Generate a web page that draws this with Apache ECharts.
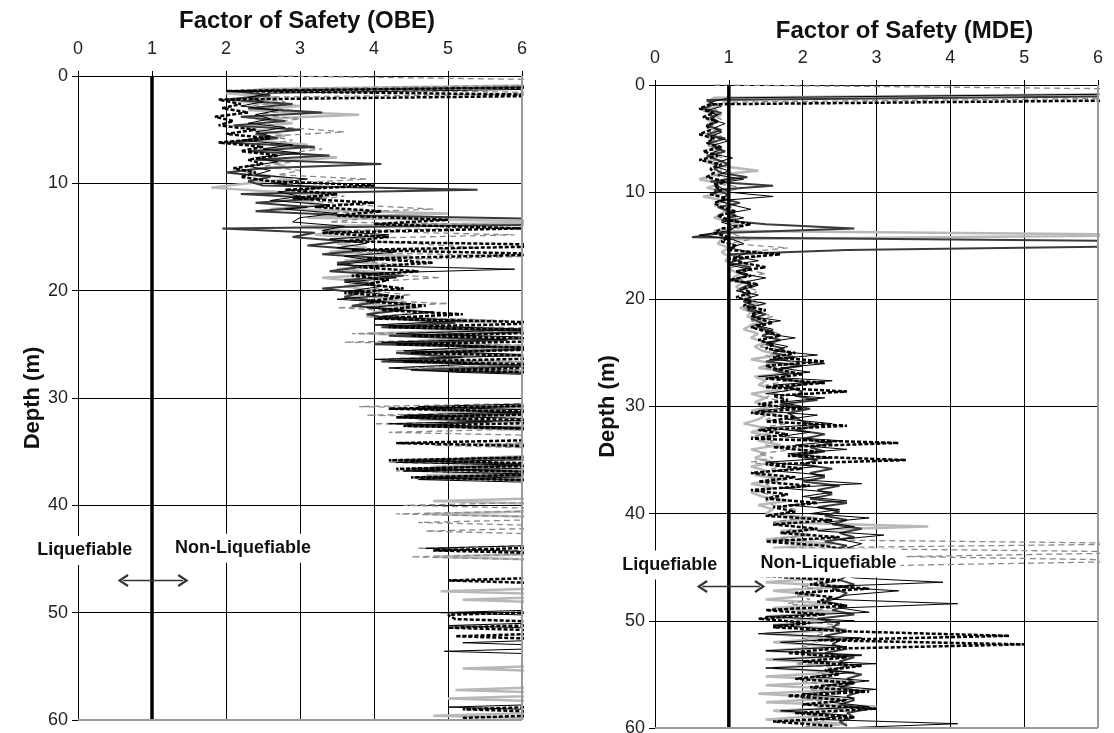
<!DOCTYPE html>
<html>
<head>
<meta charset="utf-8">
<script src="https://cdn.jsdelivr.net/npm/echarts@6/dist/echarts.min.js"></script>
<style>
html,body{margin:0;padding:0;background:#fff;}
#main{width:1114px;height:733px;}
</style>
</head>
<body>
<div id="main"></div>
<script>
// depth samples (m) - two interleaved sets so the profiles do not all break at the same depth
var depthEven = [
 0,0.4,0.8,1.2,1.6,2,2.4,2.8,3.2,3.6,
 4,4.4,4.8,5.2,5.6,6,6.4,6.8,7.2,7.6,
 8,8.4,8.8,9.2,9.6,10,10.4,10.8,11.2,11.6,
 12,12.4,12.8,13.2,13.6,14,14.4,14.8,15.2,15.6,
 16,16.4,16.8,17.2,17.6,18,18.4,18.8,19.2,19.6,
 20,20.4,20.8,21.2,21.6,22,22.4,22.8,23.2,23.6,
 24,24.4,24.8,25.2,25.6,26,26.4,26.8,27.2,27.6,
 28,28.4,28.8,29.2,29.6,30,30.4,30.8,31.2,31.6,
 32,32.4,32.8,33.2,33.6,34,34.4,34.8,35.2,35.6,
 36,36.4,36.8,37.2,37.6,38,38.4,38.8,39.2,39.6,
 40,40.4,40.8,41.2,41.6,42,42.4,42.8,43.2,43.6,
 44,44.4,44.8,45.2,45.6,46,46.4,46.8,47.2,47.6,
 48,48.4,48.8,49.2,49.6,50,50.4,50.8,51.2,51.6,
 52,52.4,52.8,53.2,53.6,54,54.4,54.8,55.2,55.6,
 56,56.4,56.8,57.2,57.6,58,58.4,58.8,59.2,59.6,
 60];
var depthOdd = [
 0.2,0.6,1,1.4,1.8,2.2,2.6,3,3.4,3.8,
 4.2,4.6,5,5.4,5.8,6.2,6.6,7,7.4,7.8,
 8.2,8.6,9,9.4,9.8,10.2,10.6,11,11.4,11.8,
 12.2,12.6,13,13.4,13.8,14.2,14.6,15,15.4,15.8,
 16.2,16.6,17,17.4,17.8,18.2,18.6,19,19.4,19.8,
 20.2,20.6,21,21.4,21.8,22.2,22.6,23,23.4,23.8,
 24.2,24.6,25,25.4,25.8,26.2,26.6,27,27.4,27.8,
 28.2,28.6,29,29.4,29.8,30.2,30.6,31,31.4,31.8,
 32.2,32.6,33,33.4,33.8,34.2,34.6,35,35.4,35.8,
 36.2,36.6,37,37.4,37.8,38.2,38.6,39,39.4,39.8,
 40.2,40.6,41,41.4,41.8,42.2,42.6,43,43.4,43.8,
 44.2,44.6,45,45.4,45.8,46.2,46.6,47,47.4,47.8,
 48.2,48.6,49,49.4,49.8,50.2,50.6,51,51.4,51.8,
 52.2,52.6,53,53.4,53.8,54.2,54.6,55,55.4,55.8,
 56.2,56.6,57,57.4,57.8,58.2,58.6,59,59.4,59.8];

// ---------- OBE (values > 6 run off the chart) ----------
var obeBlack = [
 7,7,7,6.5,2.6,2.3,2.5,2.2,2.7,2.4,
 2.6,2.3,2.8,2.4,2.6,2.2,2.9,2.5,3.0,2.4,
 2.7,2.3,2.6,2.4,3.1,2.6,3.3,2.7,3.0,2.6,
 3.4,2.8,3.5,3.0,2.9,3.6,3.3,4.2,3.4,3.9,
 3.5,4.3,3.6,4.0,3.5,5.9,3.8,4.3,3.6,4.1,
 3.7,4.2,3.5,4.5,3.9,4.8,4.1,5.2,4.0,6.2,
 4.3,6.5,4.1,5.6,4.4,6.3,4.0,5.5,4.2,5.1,
 7,7,7,7,7,7,7,4.6,6.5,4.4,
 6.5,4.2,6.3,7,7,7,7,7,7,7,
 4.3,7,4.4,6.8,4.6,7,7,7,7,7,
 7,7,7,7,7,7,7,7,7,7,
 4.7,6.5,7,7,7,7,7,7,7,7,
 7,7,7,7,7,4.9,7,7,5.0,7,
 7,7,5.2,7,4.95,7,7,7,7,7,
 7,7,7,7,7,7,7,5.0,7,7,
 7];
var obeDark = [
 7,7,7,2.1,2.6,2.0,2.9,2.3,3.3,2.2,
 2.8,2.1,3.0,2.4,2.7,2.0,3.2,2.3,3.4,2.4,
 4.1,2.5,2.0,2.6,2.3,2.5,5.4,2.2,3.3,2.4,
 3.1,2.4,3.7,7,7,1.95,3.2,2.9,3.6,3.1,
 3.9,3.3,4.2,3.5,3.8,3.4,4.4,3.6,4.0,3.3,
 3.8,3.6,4.1,3.7,4.4,3.9,4.2,5.1,4.1,6.4,
 4.2,5.8,4.0,6.5,4.3,5.2,4.1,6.3,4.5,7,
 7,7,7,7,7,7,7,4.5,6.2,4.3,
 5.6,4.4,7,7,7,7,7,7,7,4.4,
 6.3,4.5,7,4.6,7,7,7,7,7,7,
 7,7,7,7,7,7,7,7,7,7,
 7,7,7,7,7,7,7,7,7,7,
 7,7,7,7,7,7,7,7,7,7,
 7,7,7,7,7,7,7,7,7,7,
 7,7,7,7,7,7,7,7,7,7];
var obeLight = [
 7,7,7,2.5,2.0,2.7,2.2,3.0,2.3,3.8,
 2.4,2.9,2.2,2.6,2.8,2.4,3.1,2.5,2.9,3.5,
 2.6,2.8,2.2,2.5,2.9,2.3,1.8,2.7,3.4,2.9,
 3.3,2.6,5.0,3.1,7,3.0,3.6,3.2,4.0,3.5,
 3.9,3.4,4.5,3.6,4.1,3.5,4.3,3.3,3.9,3.6,
 4.0,3.6,4.4,3.8,4.6,4.0,3.9,5.6,4.2,6.0,
 3.9,5.4,4.3,6.2,4.6,5.8,4.2,7,4.7,7,
 7,7,7,7,7,7,7,7,4.8,6.0,
 4.6,7,5.3,7,7,7,5.5,7,7,5.3,
 7,4.8,7,4.7,7,7,7,7,7,4.8,
 7,7,4.7,7,7,7,7,7,7,7,
 7,7,4.8,7,7,7,7,7,7,7,
 4.9,7,5.2,7,7,7,7,7,7,7,
 7,7,7,7,7,7,7,7,5.2,7,
 7,7,7,5.1,7,5.0,7,7,7,4.8,
 7];
var obeDash = [
 7,7,7,2.0,7,1.9,2.2,1.95,2.3,1.85,
 2.1,1.9,2.4,2.0,2.6,1.9,2.5,2.2,2.7,2.3,
 2.5,2.1,2.4,2.2,2.6,4.0,2.8,3.5,2.9,4.0,
 3.2,4.1,3.5,5.0,4.0,6.0,3.3,4.2,3.6,7,
 3.7,6.5,3.9,4.8,3.8,4.6,3.7,4.2,3.9,4.4,
 3.6,4.4,3.9,4.7,4.1,5.2,4.0,6.5,4.2,7,
 4.5,7,4.3,6.6,4.5,7,4.4,7,5.0,7,
 7,7,7,7,7,7,7,4.2,7,4.3,
 7,4.4,7,7,7,4.3,7,7,7,4.2,
 7,4.3,7,4.5,7,7,7,7,7,7,
 7,7,7,7,7,7,7,7,7,7,
 4.8,7,7,7,7,7,7,5.0,7,7,
 7,7,7,7,7,5.0,5.1,7,5.0,7,
 5.1,7,7,7,7,7,7,7,7,7,
 7,7,7,7,7,7,7,5.2,7,5.2];
var obeGrayDash = [
 2.7,7,7,2.6,7,2.2,2.8,2.3,2.9,2.4,
 3.0,2.5,2.8,3.6,2.6,2.9,2.5,3.3,2.8,2.6,
 2.9,2.5,3.0,2.7,3.9,2.8,3.3,3.0,3.6,3.1,
 3.7,4.8,3.2,4.0,3.4,7,3.5,5.9,3.3,4.5,
 5.4,3.5,6.1,3.7,4.4,3.6,4.0,4.9,3.8,4.2,
 3.9,4.5,3.6,5.0,3.5,4.8,4.0,5.8,4.1,7,
 3.7,6.2,3.6,7,4.3,5.3,4.1,7,4.4,7,
 7,7,7,7,7,7,7,3.8,7,3.9,
 7,4.0,6.5,4.2,7,7,4.8,7,7,7,
 4.2,7,4.3,7,7,7,7,7,7,7,
 4.4,7,4.3,7,4.6,7,4.7,7,7,7,
 4.6,7,4.5,7,7,7,7,7,7,7,
 7,7,7,7,7,7,7,7,7,7,
 7,7,7,7,7,7,7,7,7,7,
 7,7,7,7,7,7,7,7,7,7,
 7];

// ---------- MDE ----------
var mdeBlack = [
 7,7,7,1.0,0.75,0.9,0.7,0.85,0.75,0.95,
 0.8,0.9,0.75,1.0,0.8,0.9,0.75,1.05,0.85,0.8,
 1.0,0.85,1.2,0.8,0.9,1.0,1.6,0.85,1.05,1.3,
 0.95,1.2,0.9,1.1,1.0,0.6,1.05,1.2,1.0,1.3,
 1.1,1.4,1.0,1.3,1.15,1.5,1.2,1.35,1.1,1.4,
 1.2,1.5,1.25,1.45,1.3,1.7,1.35,1.6,1.5,1.9,
 1.5,1.8,1.6,2.2,1.55,2.3,1.7,2.1,1.4,2.4,
 1.6,1.9,1.5,2.3,1.7,2.0,1.4,2.2,1.8,2.4,
 1.5,2.1,1.7,2.5,1.9,2.6,1.8,2.4,1.5,2.2,
 1.6,2.3,1.9,2.8,1.7,2.4,2.0,2.6,1.8,2.5,
 2.1,2.9,2.3,2.7,2.2,3.1,2.5,2.8,2.6,2.9,
 2.4,2.8,2.6,2.9,2.5,2.7,3.9,2.3,3.3,2.6,
 2.4,4.1,2.5,2.9,1.5,2.7,1.6,2.4,1.4,2.8,
 1.7,2.6,1.5,2.8,1.6,3.0,1.5,2.7,2.1,2.9,
 2.3,3.0,2.0,2.7,2.4,2.9,1.7,2.6,2.2,4.1,
 2.5];
var mdeDark = [
 7,7,7,0.7,0.8,0.65,0.9,0.75,0.85,0.7,
 0.9,0.7,0.95,0.75,0.8,0.95,0.7,0.85,1.0,0.8,
 0.9,1.25,0.75,1.6,0.8,1.0,0.9,1.15,0.85,1.0,
 1.1,0.9,1.5,2.7,0.9,0.5,7,7,2.6,1.0,
 1.2,1.0,1.3,1.1,1.25,1.05,1.3,1.15,1.2,1.3,
 1.2,1.35,1.25,1.5,1.3,1.45,1.4,1.6,1.45,1.7,
 1.5,1.75,1.6,1.9,1.5,2.0,1.6,1.8,1.7,2.1,
 1.8,2.0,1.9,2.2,1.7,2.1,1.8,1.9,2.0,2.2,
 1.9,2.3,2.0,2.4,2.1,2.3,1.9,2.2,2.0,2.4,
 2.1,2.3,2.0,2.5,2.2,2.4,2.1,2.6,2.2,2.5,
 2.3,2.6,2.4,2.8,2.5,2.7,2.3,2.6,2.4,2.5,
 2.5,2.7,2.4,2.8,2.6,2.5,2.7,2.4,2.6,2.5,
 2.3,2.6,2.4,2.7,2.2,2.5,2.4,2.6,2.3,2.5,
 2.4,2.6,2.3,2.7,2.5,2.6,2.4,2.8,2.6,2.7,
 2.5,2.8,2.6,2.7,2.5,2.9,2.6,2.7,2.5,2.6];
var mdeLight = [
 7,7,7,0.8,0.7,0.85,0.65,0.9,0.7,0.8,
 0.75,0.9,0.7,0.8,0.85,0.75,0.9,0.8,0.7,0.95,
 1.4,0.8,0.6,0.9,0.7,1.0,0.65,0.95,0.8,1.0,
 0.9,0.8,1.0,1.2,0.8,7,0.9,0.85,1.0,0.9,
 1.0,0.95,1.1,1.0,1.15,1.05,1.2,1.1,1.15,1.25,
 1.2,1.4,1.15,1.3,1.25,1.5,1.3,1.2,1.4,1.3,
 1.5,1.35,1.45,1.7,1.3,1.6,1.4,1.9,1.35,1.5,
 1.4,1.7,1.3,1.5,1.35,1.6,1.3,1.5,1.4,1.2,
 1.5,1.3,1.6,1.4,1.7,1.3,1.5,1.35,1.6,1.3,
 1.5,1.35,1.7,1.3,1.6,1.3,1.45,1.8,1.4,1.6,
 1.5,2.2,1.6,3.7,1.7,2.1,1.5,2.4,1.6,2.0,
 1.7,2.2,1.6,2.5,1.5,2.3,1.5,2.6,1.6,2.2,
 1.5,2.4,1.6,2.5,1.5,2.3,1.6,2.6,1.5,2.4,
 1.6,2.5,1.5,2.8,1.5,2.4,1.6,2.5,1.5,2.7,
 1.5,2.6,1.4,2.5,1.5,3.0,1.6,2.4,1.5,2.6,
 2.0];
var mdeDash = [
 7,7,7,7,0.75,0.6,0.8,0.65,0.85,0.7,
 0.75,0.6,0.8,0.7,0.9,0.65,0.85,0.6,0.9,0.75,
 0.8,0.7,0.95,0.8,0.9,0.75,1.0,0.8,0.9,1.1,
 0.85,1.0,1.3,0.9,0.8,1.0,0.9,1.1,1.0,1.7,
 1.0,1.2,1.5,1.1,1.3,1.0,1.4,1.2,1.3,1.1,
 1.3,1.2,1.5,1.3,1.4,1.6,1.3,1.5,1.7,1.4,
 1.6,1.5,1.9,1.6,2.3,1.5,1.7,2.0,1.5,2.3,
 1.5,2.6,1.6,1.8,1.4,2.0,1.3,1.9,1.5,2.6,
 1.4,1.8,1.3,3.3,1.6,2.2,1.8,3.4,1.5,2.0,
 1.3,1.9,1.4,2.1,1.3,1.8,1.5,2.2,1.6,1.9,
 1.5,2.4,1.6,2.2,1.7,2.5,1.5,2.3,2.6,1.6,
 2.0,2.6,1.5,2.3,1.4,2.5,2.1,2.9,1.9,2.4,
 2.2,2.6,1.5,2.3,1.4,2.1,1.6,2.7,4.8,2.2,
 5.0,2.4,1.8,2.6,2.0,2.8,2.3,2.5,1.9,2.7,
 2.1,2.9,1.8,2.6,2.0,3.0,1.9,2.7,1.6,2.4];
var mdeGrayDash = [
 0.8,7,7,7,0.9,0.7,0.85,0.75,0.9,0.7,
 0.85,0.75,0.9,0.8,0.7,0.85,0.8,0.9,0.75,0.85,
 0.9,0.8,1.0,0.85,1.2,0.9,1.0,0.85,1.1,0.95,
 1.0,1.1,0.9,1.2,1.0,1.1,1.3,1.0,1.8,1.2,
 1.4,1.1,1.3,1.2,1.5,1.1,1.3,1.2,1.4,1.3,
 1.3,1.5,1.2,1.4,1.6,1.3,1.5,1.4,1.7,1.5,
 1.6,1.4,1.8,1.5,1.7,1.9,1.5,1.7,1.6,1.8,
 1.5,1.9,1.6,1.5,1.8,1.6,1.4,1.7,1.5,1.8,
 1.4,1.7,1.3,1.6,1.5,1.9,1.4,1.6,1.3,1.7,
 1.5,1.4,1.8,1.5,1.6,1.4,1.7,1.5,1.6,1.9,
 1.7,2.0,1.6,1.9,1.8,2.1,1.6,7,1.8,7,
 3.4,7,3.5,1.9,2.2,1.8,2.4,2.0,2.3,1.9,
 2.1,1.8,2.4,2.0,2.2,1.9,2.5,2.1,2.3,2.0,
 2.2,2.0,2.4,2.1,2.3,1.9,2.5,2.2,2.4,2.0,
 2.3,2.1,2.5,2.0,2.4,2.2,2.6,2.1,2.3,2.2,
 2.0];

var titles = ['Factor of Safety (OBE)', 'Factor of Safety (MDE)'];
var limitFS = 1; // FS = 1 boundary

var chart = echarts.init(document.getElementById('main'));
var FONT = 'Arial, "Liberation Sans", sans-serif';

// line looks: light gray, gray dashed, dark gray, black, black dashed
var looks = {
    light: {color:'#b8b8b8', width:2.5, type:'solid'},
    grayDash: {color:'#8a8a8a', width:1.3, type:[6,4]},
    dark: {color:'#3a3a3a', width:2, type:'solid'},
    black: {color:'#000', width:1, type:'solid'},
    dash: {color:'#000', width:2.5, type:[4,2]}
};

function pairs(fs, depth){
    return fs.map(function(v,i){return [v, depth[i]];});
}

function profile(fs, depth, look, idx){
    return {
        type:'line', xAxisIndex:idx, yAxisIndex:idx,
        data: pairs(fs, depth),
        symbol:'none', showSymbol:false, clip:true,
        lineStyle: look, silent:true, animation:false, z:2
    };
}

function xAxisFor(idx){
    return {
        type:'value', gridIndex:idx, position:'top', min:0, max:6, interval:1,
        name: titles[idx], nameLocation:'middle', nameGap: idx === 0 ? 43 : 42,
        nameTextStyle:{fontFamily:FONT, fontSize:24, fontWeight:'bold', color:'#111',
            padding: idx === 0 ? [0,0,0,14] : [0,0,0,56]},
        axisLine:{show:true, onZero:false, lineStyle:{color:'#000', width:1}},
        axisTick:{show:true, length:5, lineStyle:{color:'#000'}},
        axisLabel:{fontFamily:FONT, fontSize:18, color:'#222', margin:18},
        splitLine:{show:true, lineStyle:{color:'#000', width:1}}
    };
}

function yAxisFor(idx){
    return {
        type:'value', gridIndex:idx, inverse:true, min:0, max:60, interval:10,
        name:'Depth (m)', nameLocation:'middle', nameGap: idx === 0 ? 34 : 36, nameRotate:90,
        nameTextStyle:{fontFamily:FONT, fontSize:22, fontWeight:'bold', color:'#111'},
        axisLine:{show:true, onZero:false, lineStyle:{color:'#000', width:1}},
        axisTick:{show:true, length:6, lineStyle:{color:'#000'}},
        axisLabel:{fontFamily:FONT, fontSize:18, color:'#222', margin:10},
        splitLine:{show:true, lineStyle:{color:'#000', width:1}}
    };
}

// chevron arrow head, drawn pointing up (markLine rotates it)
var chevron = 'path://M5,0 L10,8 L8.4,9 L5,3.2 L1.6,9 L0,8 Z';

function limitLine(idx, arrowFrom, arrowTo, arrowDepth){
    return {
        type:'line', xAxisIndex:idx, yAxisIndex:idx,
        data:[[limitFS,0],[limitFS,60]],
        symbol:'none', silent:true, animation:false, z:6,
        lineStyle:{color:'#000', width:3.5},
        markLine:{
            silent:true, animation:false, label:{show:false}, z:7,
            data:[
                [{xAxis:6, yAxis:0, symbol:'none', lineStyle:{color:'#9a9a9a', width:2, type:'solid'}},
                 {xAxis:6, yAxis:60, symbol:'none'}],
                [{xAxis:0, yAxis:60, symbol:'none', lineStyle:{color:'#9a9a9a', width:2, type:'solid'}},
                 {xAxis:6, yAxis:60, symbol:'none'}],
                [{coord:[arrowFrom, arrowDepth], symbol:chevron, symbolSize:[13,11],
                  lineStyle:{color:'#333', width:1.4, type:'solid'}},
                 {coord:[arrowTo, arrowDepth], symbol:chevron, symbolSize:[13,11]}]
            ]
        }
    };
}

var series = [
    profile(obeLight, depthEven, looks.light, 0),
    profile(obeGrayDash, depthEven, looks.grayDash, 0),
    profile(obeDark, depthOdd, looks.dark, 0),
    profile(obeBlack, depthEven, looks.black, 0),
    profile(obeDash, depthOdd, looks.dash, 0),
    limitLine(0, 0.61, 1.42, 47),
    profile(mdeLight, depthEven, looks.light, 1),
    profile(mdeGrayDash, depthEven, looks.grayDash, 1),
    profile(mdeDark, depthOdd, looks.dark, 1),
    profile(mdeBlack, depthEven, looks.black, 1),
    profile(mdeDash, depthOdd, looks.dash, 1),
    limitLine(1, 0.64, 1.42, 46.8)
];

var option = {
    backgroundColor:'#fff',
    animation:false,
    grid:[
        {left:78, top:76, width:444, height:644, outerBoundsMode:'none', containLabel:false},
        {left:655, top:85, width:443, height:643, outerBoundsMode:'none', containLabel:false}
    ],
    xAxis:[xAxisFor(0), xAxisFor(1)],
    yAxis:[yAxisFor(0), yAxisFor(1)],
    series: series
};
chart.setOption(option);

// zone labels, placed in data coordinates
var notes = [
    {text:'Liquefiable', grid:0, at:[0.09, 44.2]},
    {text:'Non-Liquefiable', grid:0, at:[2.23, 44.0]},
    {text:'Liquefiable', grid:1, at:[0.2, 44.8]},
    {text:'Non-Liquefiable', grid:1, at:[2.35, 44.6]}
];
var graphics = notes.map(function(n){
    var p = chart.convertToPixel({gridIndex:n.grid}, n.at);
    return {
        type:'text', x:p[0], y:p[1], z:100,
        style:{text:n.text, font:'bold 18px ' + FONT, fill:'#111',
            align:'center', verticalAlign:'middle',
            backgroundColor:'#fff', padding:[6,4,5,4]}
    };
});
chart.setOption({graphic: graphics});
</script>
</body>
</html>
